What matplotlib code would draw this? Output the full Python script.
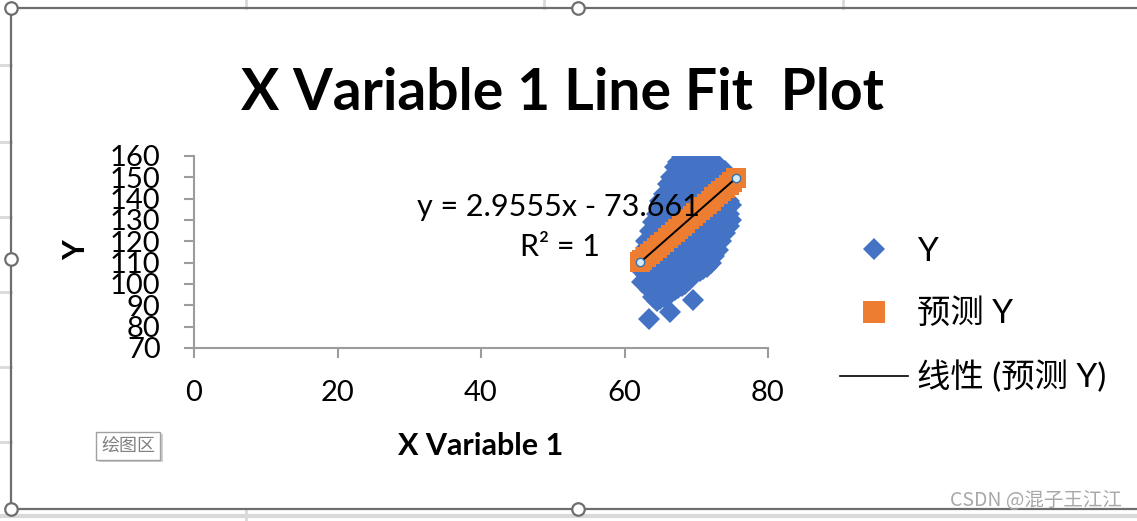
import matplotlib
matplotlib.use("Agg")
import matplotlib.pyplot as plt
from matplotlib.lines import Line2D
from matplotlib.patches import Rectangle

plt.rcParams['font.family'] = ['Lato', 'Noto Sans CJK SC', 'DejaVu Sans']

# ---------------- data ----------------
obs_x_groups = [62.5, 63, 63.4, 63.5, 64, 64.5, 65, 65.5, 66, 66.3, 66.5, 67, 67.5,
                68, 68.5, 69, 69.5, 70, 70.5, 71, 71.5, 72, 72.5, 73, 73.5, 74, 74.5, 74.8]
obs_y_groups = [
    [101, 106, 110, 114],
    [100, 104, 108, 113, 117, 120],
    [83.5],
    [97, 103, 109, 115, 121, 125],
    [94, 99, 105, 111, 117, 123, 129],
    [92, 97, 103, 109, 115, 121, 127, 133],
    [93, 99, 105, 111, 117, 123, 129, 135, 139],
    [94, 100, 106, 112, 118, 124, 130, 136, 142],
    [95, 101, 107, 113, 119, 125, 131, 137, 143, 147],
    [87],
    [96, 102, 108, 114, 120, 126, 132, 138, 144, 150],
    [97, 103, 109, 115, 121, 127, 133, 139, 145, 151, 155],
    [98, 104, 110, 116, 122, 128, 134, 140, 146, 152, 157],
    [99, 105, 111, 117, 123, 129, 135, 141, 147, 153, 160],
    [100, 106, 112, 118, 124, 130, 136, 142, 148, 154, 159],
    [102, 108, 114, 120, 126, 132, 138, 144, 150, 156, 160],
    [92.5, 104, 110, 116, 122, 128, 134, 140, 146, 152, 158],
    [105, 111, 117, 123, 129, 135, 141, 147, 153, 159],
    [106, 112, 118, 124, 130, 136, 142, 148, 154, 159],
    [107, 113, 119, 125, 131, 137, 143, 149, 155, 158],
    [108, 114, 120, 126, 132, 138, 144, 150, 156, 158],
    [110, 116, 122, 128, 134, 140, 146, 152, 157],
    [113, 119, 125, 131, 137, 143, 149, 155],
    [116, 122, 128, 134, 140, 146, 152, 156],
    [120, 126, 132, 138, 144, 150, 154],
    [124, 130, 136, 142, 148, 153],
    [127, 133, 139, 145],
    [130, 137],
]

pred_x = [62.2, 62.5, 63, 63.5, 64, 64.5, 65, 65.5, 66, 66.5, 67, 67.5, 68, 68.5,
          69, 69.5, 70, 70.5, 71, 71.5, 72, 72.5, 73, 73.5, 74, 74.5, 75, 75.5]
pred_y = [110.2, 111.1, 112.5, 114.0, 115.5, 117.0, 118.5, 119.9, 121.4, 122.9,
          124.4, 125.8, 127.3, 128.8, 130.3, 131.7, 133.2, 134.7, 136.2, 137.6,
          139.1, 140.6, 142.1, 143.6, 145.1, 146.5, 148.0, 149.5]

x_ticks = [0, 20, 40, 60, 80]
y_ticks = [70, 80, 90, 100, 110, 120, 130, 140, 150, 160]

title_text = "X Variable 1 Line Fit  Plot"
x_label = "X Variable 1"
y_label = "Y"
equation_text = "y = 2.9555x - 73.661"
r2_text = "R² = 1"
legend_labels = ["Y", "预测 Y", "线性 (预测 Y)"]

obs_x = [x for x, ys in zip(obs_x_groups, obs_y_groups) for _ in ys]
obs_y = [y for ys in obs_y_groups for y in ys]

# ---------------- figure ----------------
W, H = 1137, 521
fig = plt.figure(figsize=(W / 100, H / 100), dpi=100)
fig.patch.set_facecolor('white')

def fx(px):
    return px / W

def fy(py):
    return 1 - py / H

BLUE = '#4472C4'
ORANGE = '#ED7D31'
AXGREY = '#9c9c9c'

ax = fig.add_axes([fx(194), fy(348), fx(768) - fx(194), fy(156) - fy(348)])
ax.set_facecolor('none')
ax.plot(obs_x, obs_y, linestyle='None', marker='D', markersize=11,
        color=BLUE, markeredgewidth=0, zorder=2)
ax.plot(pred_x, pred_y, linestyle='None', marker='s', markersize=15,
        color=ORANGE, markeredgewidth=0, zorder=3)
ax.plot([pred_x[0], pred_x[-1]], [pred_y[0], pred_y[-1]], color='black', lw=1.4, zorder=4)
ax.plot([pred_x[0], pred_x[-1]], [pred_y[0], pred_y[-1]], linestyle='None', marker='o',
        markersize=6, markerfacecolor='#D6EAF8', markeredgecolor='#2E75B6',
        markeredgewidth=1.0, zorder=5)

ax.set_xlim(0, 80)
ax.set_ylim(70, 160)
ax.set_xticks(x_ticks)
ax.set_yticks(y_ticks)
for s in ['top', 'right']:
    ax.spines[s].set_visible(False)
for s in ['left', 'bottom']:
    ax.spines[s].set_color(AXGREY)
    ax.spines[s].set_linewidth(1.5)
ax.tick_params(axis='both', direction='out', length=7, width=1.5, color=AXGREY,
               labelsize=21, labelcolor='black')
ax.tick_params(axis='x', pad=16)
ax.tick_params(axis='y', pad=17)

# texts
fig.text(fx(562), fy(93), title_text, ha='center', va='center', fontsize=41,
         fontweight='bold')
fig.text(fx(481), fy(446), x_label, ha='center', va='center', fontsize=22,
         fontweight='bold')
fig.text(fx(76), fy(250), y_label, ha='center', va='center', fontsize=22,
         fontweight='bold', rotation=90)
fig.text(fx(558), fy(207), equation_text, ha='center', va='center', fontsize=22)
fig.text(fx(560), fy(247), r2_text, ha='center', va='center', fontsize=22)

# legend
handles = [
    Line2D([], [], linestyle='None', marker='D', markersize=11, color=BLUE,
           markeredgewidth=0),
    Line2D([], [], linestyle='None', marker='s', markersize=16, color=ORANGE,
           markeredgewidth=0),
    Line2D([], [], color='black', lw=1.2),
]
fig.legend(handles, legend_labels, loc='upper left',
           bbox_to_anchor=(fx(840), fy(237)), bbox_transform=fig.transFigure,
           frameon=False, fontsize=24, handlelength=2.04, handletextpad=0.27,
           labelspacing=0.95, borderpad=0, borderaxespad=0)

# Excel sheet gridlines outside the chart
GRID = '#d9d9d9'
for gx in [246, 544, 843]:
    fig.add_artist(Line2D([fx(gx), fx(gx)], [fy(0), fy(8)], color=GRID, lw=2,
                          transform=fig.transFigure, zorder=0))
fig.add_artist(Line2D([fx(246), fx(246)], [fy(509), fy(521)], color=GRID, lw=2,
                      transform=fig.transFigure, zorder=0))
for gy in [65, 142, 217, 292, 367, 442]:
    fig.add_artist(Line2D([fx(0), fx(11)], [fy(gy), fy(gy)], color=GRID, lw=2,
                          transform=fig.transFigure, zorder=0))
fig.add_artist(Line2D([fx(0), fx(W)], [fy(516), fy(516)], color=GRID, lw=3,
                      transform=fig.transFigure, zorder=0))

# chart border with selection handles
fig.add_artist(Rectangle((fx(11), fy(509)), fx(W + 5) - fx(11), fy(8) - fy(509),
                         transform=fig.transFigure, fill=False,
                         edgecolor='#6e6e6e', lw=1.6, zorder=1))
for hx, hy in [(11, 8), (578, 8), (11, 259), (11, 509), (578, 509)]:
    fig.add_artist(Line2D([fx(hx)], [fy(hy)], marker='o', markersize=9,
                          markerfacecolor='white', markeredgecolor='#6e6e6e',
                          markeredgewidth=1.6, transform=fig.transFigure, zorder=6))

# "绘图区" tooltip
fig.add_artist(Rectangle((fx(99), fy(462)), fx(64), fy(432) - fy(460),
                         transform=fig.transFigure, facecolor='#d0d0d0',
                         edgecolor='none', zorder=6))
fig.add_artist(Rectangle((fx(96), fy(460)), fx(64), fy(432) - fy(460),
                         transform=fig.transFigure, facecolor='white',
                         edgecolor='#a0a0a0', lw=1, zorder=7))
fig.text(fx(128), fy(446), "绘图区", ha='center', va='center', fontsize=13,
         color='#808080', zorder=8, family=['Noto Sans CJK SC'])

# watermark
fig.text(fx(1122), fy(500), "CSDN @混子王江江", ha='right', va='center', fontsize=14,
         color='#a8a8a8', family=['Noto Sans CJK SC', 'DejaVu Sans'], zorder=8)

fig.savefig('out.png', dpi=100, facecolor='white')
